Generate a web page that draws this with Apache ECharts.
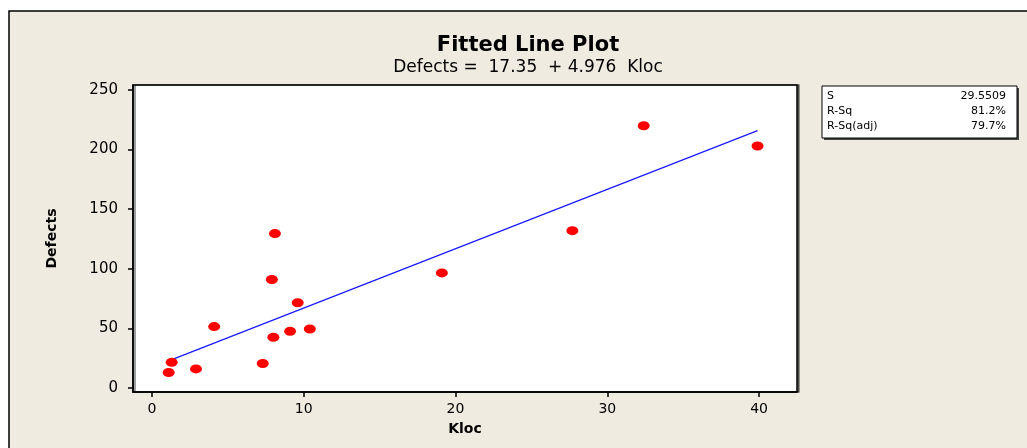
<!DOCTYPE html>
<html lang="en">
<head>
    <meta charset="UTF-8">
    <title>Fitted Line Plot</title>
    <script src="https://cdn.jsdelivr.net/npm/echarts@6/dist/echarts.min.js"></script>
    <style>
        html, body { margin: 0; padding: 0; background: #ffffff; }
        #main { width: 1027px; height: 448px; }
    </style>
</head>
<body>
<div id="main"></div>
<script type="text/javascript">
    // data
    var klocValues = [1.1, 1.3, 2.9, 4.1, 7.3, 8.0, 9.1, 10.4, 9.6, 7.9, 8.1, 19.1, 27.7, 32.4, 39.9];
    var defectValues = [13, 21.5, 16, 51.5, 20.5, 42.5, 47.5, 49.5, 71.5, 91, 129.5, 96.5, 132, 220, 203];
    var fitKloc = [1.1, 39.9];
    var fitDefects = [22.8, 215.9];
    var xTicks = [0, 10, 20, 30, 40];
    var yTicks = [0, 50, 100, 150, 200, 250];
    var statNames = ['S', 'R-Sq', 'R-Sq(adj)'];
    var statValues = ['29.5509', '81.2%', '79.7%'];

    var points = klocValues.map(function (x, i) { return [x, defectValues[i]]; });
    var fitLine = fitKloc.map(function (x, i) { return [x, fitDefects[i]]; });

    var font = 'DejaVu Sans';
    var chart = echarts.init(document.getElementById('main'));

    // stats box (top right)
    var boxX = 822, boxY = 86, boxW = 195, boxH = 52;
    var statGraphics = [
        { type: 'rect', shape: { x: boxX + 2, y: boxY + 2, width: boxW, height: boxH }, style: { fill: '#444' } },
        { type: 'rect', shape: { x: boxX, y: boxY, width: boxW, height: boxH }, style: { fill: '#fff', stroke: '#000', lineWidth: 1 } }
    ];
    for (var i = 0; i < statNames.length; i++) {
        statGraphics.push({
            type: 'text', x: boxX + 5, y: boxY + 10 + i * 15,
            style: { text: statNames[i], fill: '#000', font: '11px ' + font, verticalAlign: 'middle' }
        });
        statGraphics.push({
            type: 'text', x: boxX + boxW - 11, y: boxY + 10 + i * 15,
            style: { text: statValues[i], fill: '#000', font: '11px ' + font, align: 'right', verticalAlign: 'middle' }
        });
    }

    var option = {
        backgroundColor: '#ffffff',
        animation: false,
        title: {
            text: 'Fitted Line Plot',
            subtext: 'Defects =  17.35  + 4.976  Kloc',
            left: 523,
            textAlign: 'center',
            top: 30,
            itemGap: 3,
            textStyle: { fontFamily: font, fontWeight: 'bold', fontSize: 21, color: '#000' },
            subtextStyle: { fontFamily: font, fontSize: 17, color: '#000' }
        },
        graphic: [
            {
                // beige outer frame
                type: 'rect', z: -100, silent: true,
                shape: { x: 9, y: 11, width: 1030, height: 450 },
                style: { fill: '#efebe1', stroke: '#000', lineWidth: 1.5 }
            }
        ].concat(statGraphics),
        grid: {
            left: 133, top: 85, width: 664, height: 307,
            show: true, backgroundColor: '#ffffff', borderColor: '#000', borderWidth: 1.5,
            shadowColor: 'rgba(0,0,0,0.5)', shadowOffsetX: 2, shadowOffsetY: 0
        },
        xAxis: {
            type: 'value', min: -1.25, max: 42.5,
            name: 'Kloc', nameLocation: 'middle', nameGap: 30,
            nameTextStyle: { fontFamily: font, fontWeight: 'bold', fontSize: 14, color: '#000' },
            axisLine: { show: true, onZero: false, lineStyle: { color: '#000', width: 1.5 } },
            axisTick: { show: true, length: 5, customValues: xTicks, lineStyle: { color: '#000', width: 1.5 } },
            axisLabel: { customValues: xTicks, margin: 10, fontFamily: font, fontSize: 14, color: '#000' },
            splitLine: { show: false }
        },
        yAxis: {
            type: 'value', min: -3.4, max: 254.2,
            name: 'Defects', nameLocation: 'middle', nameGap: 74, nameRotate: 90,
            nameTextStyle: { fontFamily: font, fontWeight: 'bold', fontSize: 14, color: '#000' },
            axisLine: { show: true, onZero: false, lineStyle: { color: '#000', width: 1.5 } },
            axisTick: { show: true, length: 5, customValues: yTicks, lineStyle: { color: '#000', width: 1.5 } },
            axisLabel: { customValues: yTicks, margin: 15, fontFamily: font, fontSize: 15, color: '#000' },
            splitLine: { show: false }
        },
        series: [
            {
                name: 'Regression',
                type: 'line',
                data: fitLine,
                showSymbol: false,
                symbol: 'none',
                lineStyle: { color: '#1a1aff', width: 1.3 },
                z: 2
            },
            {
                name: 'Defects',
                type: 'scatter',
                data: points,
                symbol: 'circle',
                symbolSize: [12, 9],
                itemStyle: { color: '#ff0000', opacity: 1 },
                z: 3
            }
        ]
    };

    chart.setOption(option);
</script>
</body>
</html>
